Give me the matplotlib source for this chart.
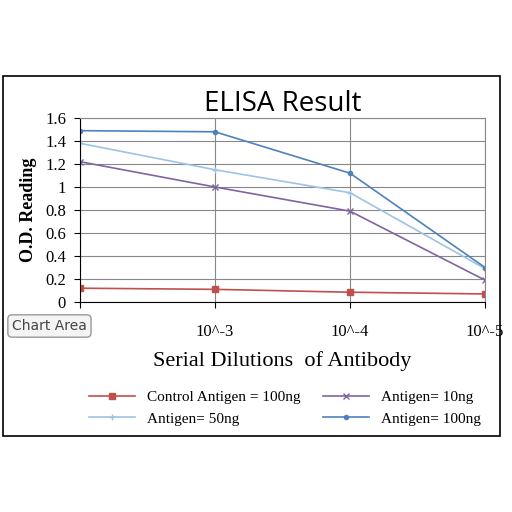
import matplotlib
matplotlib.use("Agg")
import matplotlib.pyplot as plt
from matplotlib.patches import Rectangle

categories = ["", "10^-3", "10^-4", "10^-5"]
control = [0.12, 0.11, 0.085, 0.07]
ag10 = [1.22, 1.0, 0.79, 0.19]
ag50 = [1.38, 1.15, 0.95, 0.29]
ag100 = [1.49, 1.48, 1.12, 0.30]

fig = plt.figure(figsize=(5.12, 5.12), dpi=100)
fig.patches.append(Rectangle((3/512, 1-436/512), 497/512, 360/512, transform=fig.transFigure,
                             fill=False, edgecolor="black", linewidth=1.2))

ax = fig.add_axes([80/512, 1-302/512, 405/512, 184/512])
x = range(len(categories))
l1, = ax.plot(x, control, color="#c0504d", marker="s", markersize=4, linewidth=1.2, label="Control Antigen = 100ng")
l2, = ax.plot(x, ag10, color="#8064a2", marker="x", markersize=4, linewidth=1.2, label="Antigen= 10ng")
l3, = ax.plot(x, ag50, color="#9dc3e6", marker="+", markersize=4, linewidth=1.2, label="Antigen= 50ng")
l4, = ax.plot(x, ag100, color="#4f81bd", marker="o", markersize=3, linewidth=1.2, label="Antigen= 100ng")

ax.set_xlim(0, 3)
ax.set_ylim(0, 1.6)
ax.set_yticks([0, 0.2, 0.4, 0.6, 0.8, 1, 1.2, 1.4, 1.6])
ax.set_yticklabels(["0", "0.2", "0.4", "0.6", "0.8", "1", "1.2", "1.4", "1.6"], family="Liberation Serif", fontsize=12)
ax.set_xticks(list(x))
ax.set_xticklabels(categories, family="Liberation Serif", fontsize=12)
ax.tick_params(axis="x", pad=12, length=4)
ax.tick_params(axis="y", length=4, pad=6)
ax.grid(True, color="#888888", linewidth=0.8)
for s in ["top", "right"]:
    ax.spines[s].set_color("#888888")
ax.set_title("ELISA Result", fontsize=20, family="Open Sans", pad=4)
ax.set_ylabel("O.D. Reading", family="Liberation Serif", fontsize=13, fontweight="bold", labelpad=6)
ax.set_xlabel("Serial Dilutions  of Antibody", family="Liberation Serif", fontsize=16, labelpad=8)

fig.legend([l1, l3, l2, l4], [l1.get_label(), l3.get_label(), l2.get_label(), l4.get_label()],
           loc="upper left", bbox_to_anchor=(75/512, 1-377/512), ncol=2, frameon=False,
           prop={"family": "Liberation Serif", "size": 11}, columnspacing=1.5, handlelength=3)

fig.text(12/512, 1-326/512, "Chart Area", fontsize=10, family="DejaVu Sans", color="#444444", va="center",
         bbox=dict(boxstyle="round,pad=0.3", facecolor="#f4f4f4", edgecolor="#999999"))

fig.savefig("out.png", dpi=100)
